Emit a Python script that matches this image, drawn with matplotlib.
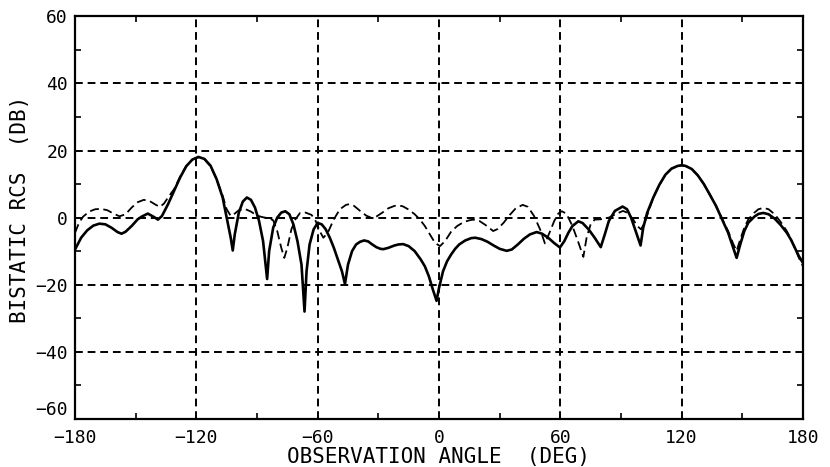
import matplotlib
matplotlib.use("Agg")
import matplotlib.pyplot as plt
from matplotlib.ticker import MultipleLocator

# observation angle (deg) and bistatic RCS (dB)
solid_deg = [-180, -177, -174, -171, -168, -165, -162, -159, -157, -155, -152, -149, -147,
             -144, -141, -139, -137, -134, -131, -128, -125, -122, -119, -116, -113, -110,
             -107, -105, -103, -102, -101, -99, -97, -95, -93, -91, -89, -87, -85, -84,
             -82, -80, -78, -76, -74, -72, -70, -68, -66.5, -65.5, -64, -62, -60, -58,
             -56, -54, -52, -50, -48, -46.5, -45, -43, -41, -39, -37, -35, -33, -31, -29,
             -27.5, -25, -22, -20, -17.7, -15, -12, -9, -7, -5, -3, -1.2, 0, 2, 4, 6, 8,
             10, 13, 16, 18, 21, 24, 27, 30, 33.5, 36, 39, 42, 45, 48.3, 51, 54, 57, 59.8,
             62, 64, 66, 68.9, 71, 74, 77, 80, 82, 84, 87, 90.8, 93, 95, 97, 99.7, 101,
             103, 106, 109, 112, 115, 118, 120, 122, 125, 128, 131, 134, 137, 140, 143,
             145.5, 147.2, 149, 151, 153, 156, 158, 160.4, 163, 166, 169, 172, 174, 176,
             178, 180]
solid_db = [-9.5, -6, -3.8, -2.4, -1.8, -2.0, -3, -4.3, -4.8, -4.2, -2.5, -0.5, 0.3,
            1.2, 0.2, -0.6, 0.5, 4, 8, 12, 15.3, 17.3, 18.1, 17.5, 15.5, 11.5,
            6, 0, -6, -9.8, -5, 1.5, 4.8, 6.0, 5.3, 3, -1, -7, -18.3, -10,
            -3, 0, 1.5, 1.9, 1, -2, -7, -14, -28, -16, -8, -3.5, -1.6, -2,
            -3.5, -6, -9, -12.5, -16, -19.8, -14, -10, -8, -7.2, -6.8, -7.1, -8, -8.8, -9.3,
            -9.4, -9.0, -8.3, -8.0, -7.9, -8.5, -10, -12.5, -14.5, -17.5, -21.5, -24.8, -21, -16, -13, -11, -9.3,
            -8, -6.8, -6.1, -6, -6.4, -7.2, -8.3, -9.3, -9.9, -9.5, -8, -6.3, -5, -4.3, -4.8, -6, -7.6, -8.9,
            -7, -4.5, -2.5, -1.1, -1.6, -3.5, -6, -8.8, -5, -1, 2, 3.3, 2.5, 0, -3.5, -8.3, -3,
            1.5, 6, 9.8, 12.8, 14.6, 15.4, 15.6, 15.4, 14.5, 12.6, 10, 6.8, 3.5, -0.5, -4.5,
            -9, -12, -8, -4, -1.5, 0.3, 1.1, 1.4, 1.0, -0.3, -2.2, -4.5, -6.5, -9,
            -11.5, -13.5]

dash_deg = [-180, -178, -176, -173, -170, -167, -164, -161, -158, -155, -152, -149, -146,
            -143, -140, -138, -136, -134, -131, -128, -125, -122, -119, -116, -113, -110,
            -107, -105, -103, -101, -99, -96, -93, -90, -87, -84, -82, -80, -78, -76.5,
            -75, -73, -71, -68.7, -66, -63, -61, -59, -57.2, -55, -52, -49, -46, -44.4,
            -42, -39, -36, -33.3, -31, -28, -25, -22, -20, -18, -15, -12, -9.4, -7, -4,
            -2, 0.5, 3, 6, 9, 12, 15, 17, 20, 23, 26.8, 29, 32, 35, 38, 41.4, 44, 47, 50,
            52.4, 55, 57, 59, 60.7, 63, 66, 69, 71.4, 73, 75, 77, 80, 84, 88, 91, 93, 96,
            98, 100, 102, 104, 106, 109, 112, 115, 118, 120, 122, 125, 128, 131, 134, 137,
            140, 143, 145.5, 147.2, 149, 151, 153, 156, 158, 160.4, 163, 166, 169, 172,
            174, 176, 178, 180]
dash_db = [-4.5, -1.5, 0.3, 1.8, 2.5, 2.6, 2.2, 1.2, 0.4, 1, 3, 4.6, 5.3,
           4.9, 3.8, 3.2, 4.2, 6, 8.5, 12.2, 15.4, 17.3, 18.0, 17.4, 15.3, 11.5,
           6.5, 2.5, 0.5, 1.2, 2.2, 2.6, 1.8, 0.6, 0.1, -0.2, -0.8, -4, -9, -12,
           -9, -3.5, -0.5, 1.4, 1.5, 0.8, -1, -4, -6, -4.5, -0.5, 2.5, 3.8, 4.0,
           3.5, 2, 0.6, -0.1, 0.3, 1.5, 2.8, 3.5, 3.6, 3.4, 2.4, 1.0, -0.6, -2.5, -5.5,
           -7.5, -8.5, -7, -4.2, -2.5, -1.4, -0.8, -0.6, -1, -2.2, -4, -3.4, -1.5, 0.8, 2.8, 3.8, 3.2, 0.5, -3.5,
           -7.7, -4, -1, 1.2, 1.9, 1.2, -2.5, -7.5, -11.7, -6, -2, -0.6, -0.5, 0, 1.2, 2.0, 1.5, -0.5,
           -2.5, -3.5, -1, 2.5, 6, 9.8, 12.8, 14.6, 15.4, 15.6, 15.4, 14.5, 12.6, 10, 6.8, 3.5,
           -0.3, -4, -7.8, -9.9, -6.5, -3, -0.5, 1.5, 2.5, 2.9, 2.5, 1, -1.3, -4,
           -6.3, -9, -12, -14.5]

x_ticks = [-180, -120, -60, 0, 60, 120, 180]
y_ticks = [-60, -40, -20, 0, 20, 40, 60]

plt.rcParams['font.family'] = 'DejaVu Sans Mono'

fig = plt.figure(figsize=(8.3, 4.67), dpi=100)
ax = fig.add_axes([0.0904, 0.103, 0.877, 0.862])

ax.plot(solid_deg, solid_db, color='black', lw=1.9)
ax.plot(dash_deg, dash_db, color='black', lw=1.3, dashes=(5, 2.5))

ax.set_xlim(-180, 180)
ax.set_ylim(-60, 60)
ax.set_xticks(x_ticks)
ax.set_yticks(y_ticks)
ax.xaxis.set_minor_locator(MultipleLocator(30))
ax.yaxis.set_minor_locator(MultipleLocator(10))
ax.tick_params(which='major', length=0, labelsize=13)
ax.tick_params(axis='x', which='major', pad=7)
ax.tick_params(axis='y', which='major', pad=5)
ax.tick_params(which='minor', length=4, width=1.2, direction='in',
               left=True, right=True, top=True, bottom=True)

for v in x_ticks[1:-1]:
    ax.axvline(v, color='black', lw=1.4, dashes=(4, 2.5))
for v in y_ticks[1:-1]:
    ax.axhline(v, color='black', lw=1.4, dashes=(4, 2.5))

for s in ax.spines.values():
    s.set_linewidth(1.6)

# the -60 label sits a touch higher so it clears the -180 below it
ax.get_yticklabels()[0].set_verticalalignment('bottom')

ax.set_xlabel('OBSERVATION ANGLE  (DEG)', fontsize=15, labelpad=0)
ax.set_ylabel('BISTATIC RCS  (DB)', fontsize=15)
ax.yaxis.set_label_coords(-0.062, 0.52)

fig.savefig('out.png', dpi=100)
